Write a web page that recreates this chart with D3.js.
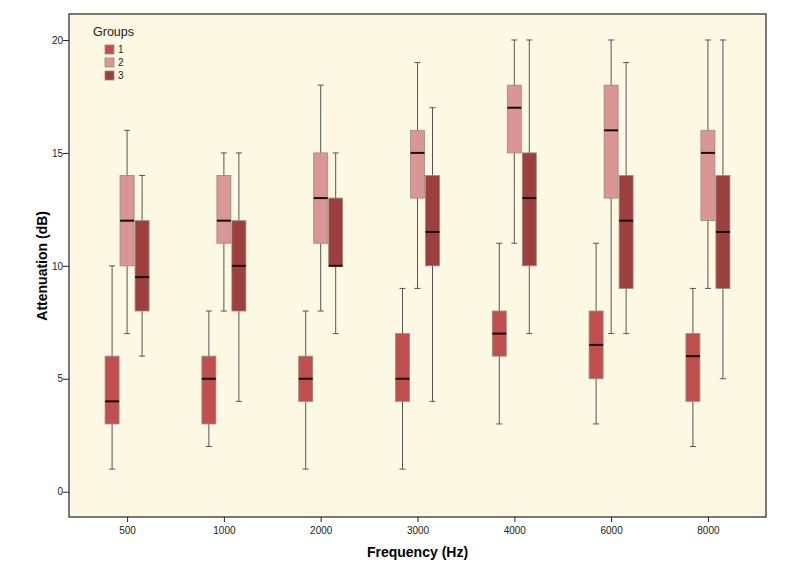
<!DOCTYPE html>
<html>
<head>
<meta charset="utf-8">
<script src="https://cdn.jsdelivr.net/npm/d3@7"></script>
<style>
  body { margin: 0; background: #fff; }
  text { font-family: "Liberation Sans", Arial, sans-serif; }
</style>
</head>
<body>
<div id="chart"></div>
<script>
// frequency categories (x axis)
var frequencies = ['500', '1000', '2000', '3000', '4000', '6000', '8000'];
var groups = ['1', '2', '3'];
var groupColors = ['#c0504d', '#d99694', '#9e3f3f'];

// box stats per group, one entry per frequency: [min, q1, median, q3, max]
var group1 = [
    [1, 3, 4, 6, 10],
    [2, 3, 5, 6, 8],
    [1, 4, 5, 6, 8],
    [1, 4, 5, 7, 9],
    [3, 6, 7, 8, 11],
    [3, 5, 6.5, 8, 11],
    [2, 4, 6, 7, 9]
];
var group2 = [
    [7, 10, 12, 14, 16],
    [8, 11, 12, 14, 15],
    [8, 11, 13, 15, 18],
    [9, 13, 15, 16, 19],
    [11, 15, 17, 18, 20],
    [7, 13, 16, 18, 20],
    [9, 12, 15, 16, 20]
];
var group3 = [
    [6, 8, 9.5, 12, 14],
    [4, 8, 10, 12, 15],
    [7, 10, 10, 13, 15],
    [4, 10, 11.5, 14, 17],
    [7, 10, 13, 15, 20],
    [7, 9, 12, 14, 19],
    [5, 9, 11.5, 14, 20]
];
var yTicks = [0, 5, 10, 15, 20];

var width = 790, height = 574;
var margin = {left: 69, top: 14, right: 24, bottom: 57};

var svg = d3.select('#chart').append('svg')
    .attr('width', width)
    .attr('height', height);

var x = d3.scalePoint()
    .domain(frequencies)
    .range([margin.left, width - margin.right])
    .padding(0.6);

var y = d3.scaleLinear()
    .domain([-1.12, 21.15])
    .range([height - margin.bottom, margin.top]);

var offset = d3.scalePoint()
    .domain(groups)
    .range([-15, 15]);

var boxWidth = 14, capWidth = 6;

// plot background
svg.append('rect')
    .attr('x', margin.left)
    .attr('y', margin.top)
    .attr('width', width - margin.left - margin.right)
    .attr('height', height - margin.top - margin.bottom)
    .style('fill', '#fdf8e3')
    .style('stroke', '#222')
    .style('stroke-width', 1.2);

// y axis
var yAxis = svg.append('g')
    .attr('transform', 'translate(' + margin.left + ',0)')
    .call(d3.axisLeft(y).tickValues(yTicks).tickSize(6).tickSizeOuter(0));
yAxis.select('.domain').remove();
yAxis.selectAll('.tick line').style('stroke', '#222');
yAxis.selectAll('.tick text')
    .style('font-size', '10px')
    .style('fill', '#222')
    .attr('x', -6);

// x axis
var xAxis = svg.append('g')
    .attr('transform', 'translate(0,' + (height - margin.bottom) + ')')
    .call(d3.axisBottom(x).tickSize(5).tickSizeOuter(0));
xAxis.select('.domain').remove();
xAxis.selectAll('.tick line').style('stroke', '#222');
xAxis.selectAll('.tick text')
    .style('font-size', '10px')
    .style('fill', '#222')
    .attr('y', 10);

// axis titles
svg.append('text')
    .attr('x', x('3000'))
    .attr('y', 557)
    .attr('text-anchor', 'middle')
    .style('font-size', '14px')
    .style('font-weight', 'bold')
    .text('Frequency (Hz)');

svg.append('text')
    .attr('transform', 'translate(47,' + y(10) + ') rotate(-90)')
    .attr('text-anchor', 'middle')
    .style('font-size', '14px')
    .style('font-weight', 'bold')
    .text('Attenuation (dB)');

// boxes
var series = [group1, group2, group3];
series.forEach(function (stats, gi) {
    var g = svg.append('g').attr('class', 'group' + groups[gi]);
    var items = g.selectAll('.box')
        .data(stats)
        .enter().append('g')
        .attr('class', 'box')
        .attr('transform', function (d, i) {
            return 'translate(' + (x(frequencies[i]) + offset(groups[gi])) + ',0)';
        });

    // whisker line
    items.append('line')
        .attr('y1', d => y(d[0]))
        .attr('y2', d => y(d[4]))
        .style('stroke', '#555')
        .style('stroke-width', 1);
    // caps
    items.append('line')
        .attr('x1', -capWidth / 2).attr('x2', capWidth / 2)
        .attr('y1', d => y(d[0])).attr('y2', d => y(d[0]))
        .style('stroke', '#555');
    items.append('line')
        .attr('x1', -capWidth / 2).attr('x2', capWidth / 2)
        .attr('y1', d => y(d[4])).attr('y2', d => y(d[4]))
        .style('stroke', '#555');
    // box
    items.append('rect')
        .attr('x', -boxWidth / 2)
        .attr('width', boxWidth)
        .attr('y', d => y(d[3]))
        .attr('height', d => y(d[1]) - y(d[3]))
        .style('fill', groupColors[gi])
        .style('stroke', '#9a8a80')
        .style('stroke-width', 0.8);
    // median
    items.append('line')
        .attr('x1', -boxWidth / 2).attr('x2', boxWidth / 2)
        .attr('y1', d => y(d[2])).attr('y2', d => y(d[2]))
        .style('stroke', '#111')
        .style('stroke-width', 2);
});

// legend
var legend = svg.append('g').attr('transform', 'translate(93,0)');
legend.append('text')
    .attr('x', 0)
    .attr('y', 36)
    .style('font-size', '12.5px')
    .style('fill', '#222')
    .text('Groups');

var legendItem = legend.selectAll('.legendItem')
    .data(groups)
    .enter().append('g')
    .attr('class', 'legendItem')
    .attr('transform', function (d, i) {
        return 'translate(12,' + (45 + i * 13) + ')';
    });
legendItem.append('rect')
    .attr('width', 9)
    .attr('height', 9)
    .style('fill', (d, i) => groupColors[i])
    .style('stroke', '#9a8a80')
    .style('stroke-width', 0.8);
legendItem.append('text')
    .attr('x', 13)
    .attr('y', 8)
    .style('font-size', '10px')
    .style('fill', '#222')
    .text(d => d);
</script>
</body>
</html>
